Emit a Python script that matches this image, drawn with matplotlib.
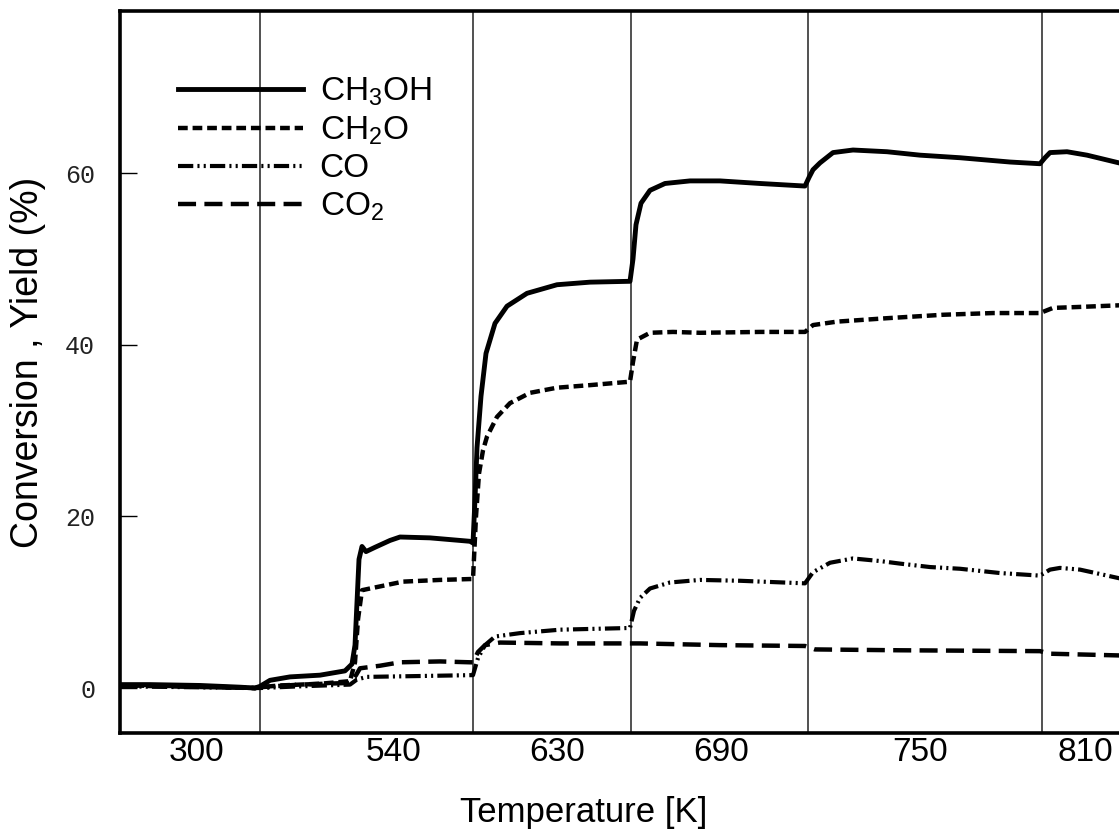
import matplotlib
matplotlib.use('Agg')
import matplotlib.pyplot as plt

plt.rcParams['font.family'] = ['Liberation Sans', 'DejaVu Sans']
plt.rcParams['mathtext.fontset'] = 'custom'
plt.rcParams['mathtext.rm'] = 'Liberation Sans'
plt.rcParams['mathtext.it'] = 'Liberation Sans:italic'
plt.rcParams['lines.scale_dashes'] = False

# run time (arbitrary units); the furnace temperature is stepped at these times
step_times = [140, 353, 511, 688, 922]
step_temps = ['300', '540', '630', '690', '750', '810']
temp_label_times = [76, 274, 437, 601, 800, 965]

t_ch3oh = [0, 30, 80, 120, 135, 140,
           150, 170, 200, 225, 232, 235, 237, 239, 242, 246, 255, 270, 280, 310, 350, 353,
           355, 357, 361, 366, 375, 387, 407, 437, 470, 510,
           513, 516, 521, 530, 545, 570, 600, 640, 685,
           689, 693, 700, 713, 733, 767, 800, 840, 890, 920,
           925, 930, 947, 967, 999, 1010]
y_ch3oh = [0.4, 0.4, 0.3, 0.1, 0.0, 0.2,
           0.9, 1.3, 1.5, 2.0, 2.8, 5.0, 10.0, 15.0, 16.5, 15.9, 16.4, 17.2, 17.6, 17.5, 17.1, 16.9,
           22.0, 28.0, 34.0, 39.0, 42.5, 44.5, 46.0, 47.0, 47.3, 47.4,
           50.0, 54.0, 56.5, 58.0, 58.8, 59.1, 59.1, 58.8, 58.5,
           59.5, 60.4, 61.2, 62.4, 62.7, 62.5, 62.1, 61.8, 61.3, 61.1,
           61.8, 62.4, 62.5, 62.1, 61.2, 61.0]

t_ch2o = [0, 80, 135, 140,
          160, 200, 230, 235, 238, 242, 250, 283, 320, 350, 353,
          356, 359, 363, 367, 377, 390, 410, 437, 470, 510,
          513, 517, 530, 553, 580, 640, 685,
          693, 717, 767, 823, 873, 920,
          933, 957, 999, 1010]
y_ch2o = [0.3, 0.2, 0.0, 0.1,
          0.3, 0.5, 0.8, 3.0, 8.0, 11.4, 11.6, 12.4, 12.6, 12.7, 12.7,
          20.0, 25.0, 27.7, 29.3, 31.6, 33.2, 34.4, 35.0, 35.3, 35.7,
          38.0, 40.6, 41.4, 41.5, 41.4, 41.5, 41.5,
          42.3, 42.7, 43.1, 43.5, 43.7, 43.7,
          44.3, 44.4, 44.6, 44.6]

t_co = [0, 135, 140,
        180, 230, 237, 247, 300, 350, 353,
        358, 365, 375, 400, 440, 510,
        514, 520, 530, 550, 580, 620, 685,
        693, 710, 733, 760, 780, 810, 840, 880, 920,
        930, 940, 960, 999, 1010]
y_co = [0.2, 0.0, 0.0,
        0.2, 0.4, 1.0, 1.3, 1.4, 1.5, 1.5,
        3.5, 5.0, 6.0, 6.4, 6.8, 7.0,
        9.0, 10.5, 11.6, 12.3, 12.6, 12.5, 12.2,
        13.5, 14.6, 15.1, 14.8, 14.5, 14.1, 13.9, 13.4, 13.1,
        13.8, 14.0, 13.8, 12.8, 12.6]

t_co2 = [0, 135, 140,
         180, 230, 236, 240, 260, 280, 320, 350, 353,
         358, 365, 380, 440, 510,
         520, 600, 685,
         695, 780, 920,
         930, 999, 1010]
y_co2 = [0.3, 0.0, 0.1,
         0.4, 0.6, 1.5, 2.3, 2.6, 3.0, 3.1, 3.0, 3.0,
         4.2, 5.0, 5.3, 5.2, 5.2,
         5.2, 5.0, 4.9,
         4.5, 4.4, 4.3,
         4.0, 3.8, 3.8]

fig = plt.figure(figsize=(11.19, 8.36), dpi=100)
# axes run off the right edge of the figure, as in the original scan
ax = fig.add_axes([120 / 1119, 103 / 836, 1010 / 1119, 722 / 836])

for t in step_times:
    ax.axvline(t, color='0.2', lw=1.2, zorder=1)

ax.plot(t_ch3oh, y_ch3oh, color='black', lw=3.5, label='CH$_\\mathrm{3}$OH')
ax.plot(t_ch2o, y_ch2o, color='black', lw=3.2, dashes=(7, 3.5), label='CH$_\\mathrm{2}$O')
ax.plot(t_co, y_co, color='black', lw=3.0, dashes=(11, 3, 1.5, 3, 1.5, 3), label='CO')
ax.plot(t_co2, y_co2, color='black', lw=3.2, dashes=(13, 6), label='CO$_\\mathrm{2}$')

ax.set_xlim(0, 1010)
ax.set_ylim(-5.24, 78.9)

ax.set_yticks([0, 20, 40, 60])
ax.tick_params(axis='y', direction='in', length=12, width=1, pad=18,
               labelsize=18, labelcolor='#222222')
for lab in ax.get_yticklabels():
    lab.set_family(['Liberation Mono', 'DejaVu Sans Mono'])

ax.set_xticks(temp_label_times)
ax.set_xticklabels(step_temps)
ax.tick_params(axis='x', length=0, pad=3, labelsize=24)

for side in ['left', 'top', 'bottom']:
    ax.spines[side].set_linewidth(2.6)
ax.spines['right'].set_visible(False)

ax.set_xlabel('Temperature [K]', fontsize=25)
ax.xaxis.set_label_coords(464 / 1010, -0.087)
ax.set_ylabel('Conversion , Yield (%)', fontsize=27)
ax.yaxis.set_label_coords(-74 / 1010, 0.514)

ax.legend(loc='upper left', bbox_to_anchor=(58 / 1010, 0.911), frameon=False,
          fontsize=24, handlelength=3.75, handletextpad=0.5, labelspacing=0.2,
          borderpad=0, borderaxespad=0)

fig.savefig('out.png', dpi=100)
